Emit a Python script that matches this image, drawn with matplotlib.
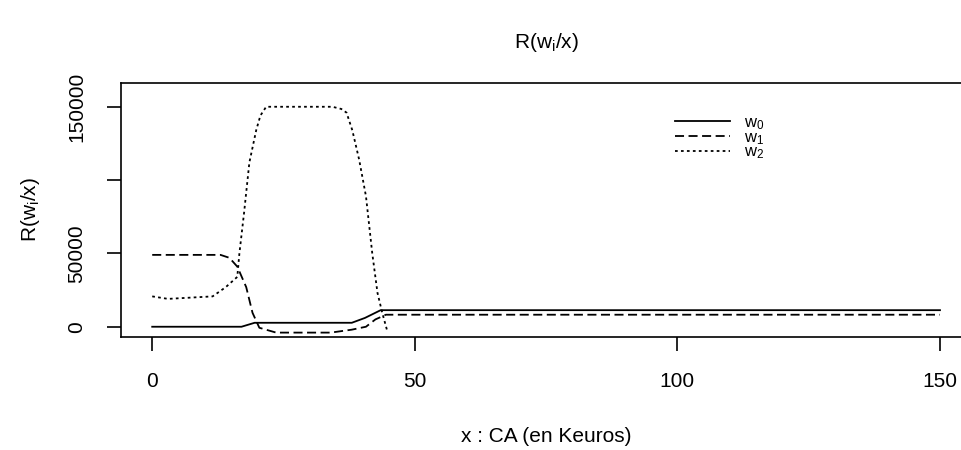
import matplotlib
matplotlib.use("Agg")
import matplotlib.pyplot as plt

plt.rcParams["font.family"] = ["Liberation Sans", "DejaVu Sans"]
plt.rcParams["mathtext.fontset"] = "custom"
plt.rcParams["mathtext.rm"] = "Liberation Sans"
plt.rcParams["mathtext.it"] = "Liberation Sans"

# ── Data ──────────────────────────────────────────────────────────────────────
x_w0 = [0, 17, 19.5, 38, 40.5, 43.5, 150]
y_w0 = [0, 0, 2700, 2700, 6000, 11300, 11300]

x_w1 = [0, 13, 14.7, 16.2, 17.9, 19.1, 20.4, 23.6, 34, 38, 40.7, 42.5, 44.5, 150]
y_w1 = [49000, 49000, 47000, 41000, 27000, 9500, -700, -4000, -4000, -2000,
        0, 5000, 8200, 8200]

x_w2 = [0, 3, 11.5, 14, 16.2, 16.6, 17.5, 18.5, 19.8, 20.6, 21.7, 34.3, 36, 37,
        38.1, 39.4, 40.7, 41.9, 42.9, 43.8, 44.8]
y_w2 = [20700, 19000, 20700, 27000, 34000, 50000, 78000, 112000, 134000, 144000,
        150000, 150000, 148500, 146000, 134000, 114000, 89000, 50000, 23000, 9500,
        -3500]

labels = [r"w$_0$", r"w$_1$", r"w$_2$"]
xticks = [0, 50, 100, 150]
yticks = [0, 50000, 100000, 150000]
ytick_labels = ["0", "50000", "", "150000"]

# ── Plot ──────────────────────────────────────────────────────────────────────
W, H = 961, 450
fig = plt.figure(figsize=(W / 100, H / 100), dpi=100)
ax = fig.add_axes([120.7 / W, 1 - 337.3 / H, (971.5 - 120.7) / W, (337.3 - 83.3) / H])

lw = 1.3
ax.plot(x_w0, y_w0, color="black", lw=lw, linestyle="-", label=labels[0])
ax.plot(x_w1, y_w1, color="black", lw=lw, linestyle=(0, (5, 2.5)), label=labels[1])
ax.plot(x_w2, y_w2, color="black", lw=lw, linestyle=(0, (1.5, 1.8)), label=labels[2])

ax.set_xlim(-6, 156)
ax.set_ylim(-7200, 166000)
ax.set_xticks(xticks)
ax.set_xticklabels([str(v) for v in xticks])
ax.set_yticks(yticks)
ax.set_yticklabels(ytick_labels, rotation=90, va="center")
ax.tick_params(direction="out", length=10, width=1.2, labelsize=15, pad=15)
for s in ax.spines.values():
    s.set_linewidth(1.2)

ax.legend(loc="upper left", bbox_to_anchor=(0.652, 0.874), frameon=False,
          fontsize=12, handlelength=3.3, handletextpad=0.8, labelspacing=-0.12,
          borderpad=0, borderaxespad=0)

fig.text(546 / W, 1 - 43 / H, r"R(w$_\mathregular{i}$/x)", ha="center", va="center", fontsize=15)
fig.text(546 / W, 1 - 437 / H, "x : CA (en Keuros)", ha="center", va="center", fontsize=15)
fig.text(30 / W, 1 - 210 / H, r"R(w$_\mathregular{i}$/x)", ha="center", va="center",
         rotation=90, fontsize=15)

fig.savefig("out.png", dpi=100)
